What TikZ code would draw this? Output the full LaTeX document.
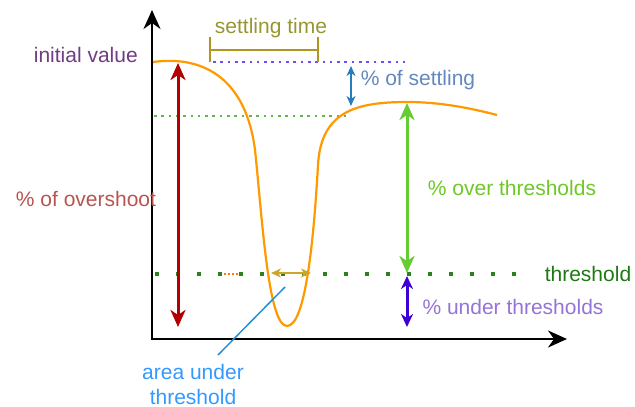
\documentclass[tikz,border=0pt]{standalone}
\usepackage{fontspec}
\setmainfont{Liberation Sans}
\usetikzlibrary{arrows.meta}
\definecolor{cinit}{RGB}{112,60,130}
\definecolor{cover}{RGB}{184,84,80}
\definecolor{credarrow}{RGB}{178,0,0}
\definecolor{csettxt}{RGB}{150,150,50}
\definecolor{cbracket}{RGB}{175,150,30}
\definecolor{cbluedot}{RGB}{110,80,240}
\definecolor{csettling}{RGB}{100,135,190}
\definecolor{csetarrow}{RGB}{40,125,185}
\definecolor{cgreendot}{RGB}{100,180,80}
\definecolor{cgreenarrow}{RGB}{102,204,51}
\definecolor{cgreentxt}{RGB}{110,200,40}
\definecolor{cthresh}{RGB}{45,128,30}
\definecolor{cthreshtxt}{RGB}{30,120,20}
\definecolor{cpurplearrow}{RGB}{60,0,210}
\definecolor{cpurpletxt}{RGB}{150,115,214}
\definecolor{cgold}{RGB}{205,165,40}
\definecolor{cblueline}{RGB}{35,145,210}
\definecolor{careatxt}{RGB}{51,153,255}
\definecolor{ccurve}{RGB}{255,153,0}
\tikzset{
  bigtip/.tip={Stealth[length=17pt,width=15pt,inset=5pt]},
  midtip/.tip={Stealth[length=13pt,width=12pt,inset=4pt]},
  smalltip/.tip={Stealth[length=10pt,width=9pt,inset=3pt]},
  axistip/.tip={Stealth[length=19pt,width=17pt,inset=6pt]}}
\begin{document}
\begin{tikzpicture}[x=1pt,y=-1pt,
  font=\fontsize{21}{25}\selectfont,
  lbl/.style={inner sep=0pt},
  axisline/.style={line width=2pt,black},
  curveline/.style={line width=2.2pt,ccurve},
  finedots/.style={line width=2.6pt,dash pattern=on 2.6pt off 4.7pt},
  bigdots/.style={line width=4pt,dash pattern=on 4pt off 17pt}]
\useasboundingbox (0,0) rectangle (635,407);

% axes
\coordinate (O) at (152,339);
\coordinate (Ytop) at (152,10);
\coordinate (Xend) at (567,339);
\draw[axisline,axistip-axistip] (Ytop) -- (O) -- (Xend);

% dotted lines
\coordinate (bd1) at (213,62);
\coordinate (bd2) at (408,62);
\draw[finedots,cbluedot] (bd1) -- (bd2);
\coordinate (gd1) at (154,116);
\coordinate (gd2) at (347,116);
\draw[finedots,cgreendot] (gd1) -- (gd2);
\coordinate (th1) at (155,274);
\coordinate (th2) at (520,274);
\draw[bigdots,cthresh] (th1) -- (th2);
\coordinate (od1) at (224,274);
\coordinate (od2) at (240,274);
\draw[line width=1.5pt,dash pattern=on 1.5pt off 2.5pt,ccurve!80!red] (od1) -- (od2);

% curve
\draw[curveline] (153,62) .. controls (205,55) and (246,80) .. (255,150)
  .. controls (262,215) and (268,326) .. (287,326)
  .. controls (306,326) and (314,235) .. (318,165)
  .. controls (321,112) and (355,102) .. (407,102)
  .. controls (440,102) and (470,108) .. (497,115);

% settling time bracket
\coordinate (sb1) at (210,37);
\coordinate (sb2) at (210,62);
\coordinate (sb3) at (318,37);
\coordinate (sb4) at (318,62);
\coordinate (sbl) at (210,50);
\coordinate (sbr) at (318,50);
\draw[line width=2pt,cbracket] (sb1) -- (sb2);
\draw[line width=2pt,cbracket] (sb3) -- (sb4);
\draw[line width=2pt,cbracket] (sbl) -- (sbr);

% arrows
\coordinate (r1) at (178,63);
\coordinate (r2) at (178,327);
\draw[line width=3pt,credarrow,bigtip-bigtip] (r1) -- (r2);
\coordinate (b1) at (351,66);
\coordinate (b2) at (351,106);
\draw[line width=1.5pt,csetarrow,smalltip-smalltip] (b1) -- (b2);
\coordinate (g1) at (407,103);
\coordinate (g2) at (407,273);
\draw[line width=3pt,cgreenarrow,bigtip-bigtip] (g1) -- (g2);
\coordinate (p1) at (407,276);
\coordinate (p2) at (407,327);
\draw[line width=3pt,cpurplearrow,midtip-midtip] (p1) -- (p2);
\coordinate (a1) at (271,273);
\coordinate (a2) at (311,273);
\draw[line width=2pt,cgold,smalltip-smalltip] (a1) -- (a2);

% labels
\node[lbl,cinit,anchor=east] (tinit) at (138,55) {initial value};
\node[lbl,csettxt] (tset) at (271,28) {settling time};
\node[lbl,csettling] (tsettling) at (418,80) {\% of settling};
\node[lbl,cover] (tover) at (86,199) {\% of overshoot};
\node[lbl,cgreentxt] (tgreen) at (512,188) {\% over thresholds};
\node[lbl,cthreshtxt] (tthr) at (588,274) {threshold};
\node[lbl,cpurpletxt] (tunder) at (513,307) {\% under thresholds};
\node[lbl,careatxt,align=center] (tarea) at (193,384) {area under\\threshold};
\coordinate (bl1) at (285,287);
\coordinate (bl2) at (218,355);
\draw[line width=1.5pt,cblueline] (bl1) -- (bl2);
\end{tikzpicture}
\end{document}
